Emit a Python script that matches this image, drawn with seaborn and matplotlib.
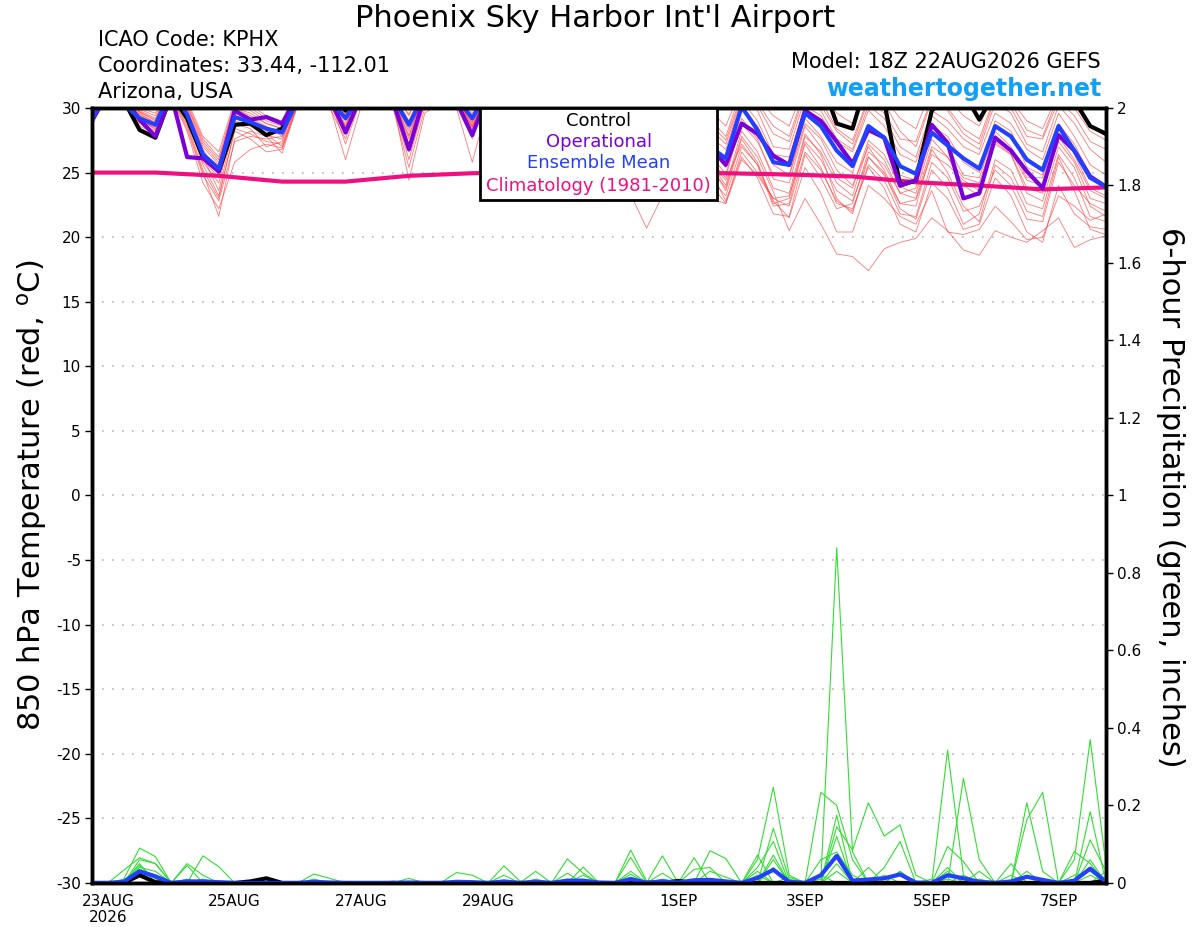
import matplotlib
matplotlib.use("Agg")
import matplotlib.pyplot as plt
import matplotlib.patches as mpatches
import seaborn as sns
import numpy as np
import pandas as pd

# 6-hourly forecast steps, step 0 = 22AUG2026 18Z
steps = list(range(65))

tick_steps = [1, 9, 17, 25, 37, 45, 53, 61]
tick_labels = ["23AUG\n2026", "25AUG", "27AUG", "29AUG", "1SEP", "3SEP", "5SEP", "7SEP"]

# 850 hPa temperature (C)
control_temp = [30.4, 31.8, 30.6, 28.3, 27.7, 31.0, 29.2, 26.2, 25.1, 28.7, 28.8, 27.9,
                28.4, 31.5, 31.6, 31.0, 29.8, 31.8, 31.8, 31.5, 30.6, 32.0, 32.0, 31.6,
                30.6, 32.0, 32.0, 31.6, 30.8, 32.0, 31.8, 31.4, 30.8, 32.0, 31.8, 31.2,
                30.6, 31.8, 31.6, 31.0, 30.8, 31.8, 31.6, 31.2, 30.9, 31.8, 32.2, 28.8,
                28.4, 32.5, 30.5, 24.0, 24.4, 29.8, 31.0, 31.2, 29.1, 31.2, 31.4, 31.2,
                30.6, 31.4, 30.6, 28.6, 28.0]

oper_temp = [29.0, 31.2, 30.8, 29.1, 27.8, 31.0, 26.2, 26.1, 25.1, 29.8, 29.1, 29.3,
             28.8, 31.0, 31.2, 30.8, 28.1, 31.0, 31.2, 30.5, 26.8, 31.0, 31.0, 30.5,
             27.9, 31.2, 31.0, 30.6, 28.5, 31.0, 30.8, 30.0, 28.5, 30.8, 30.2, 29.0,
             27.5, 30.2, 29.0, 27.0, 25.6, 28.8, 28.0, 26.3, 25.6, 29.8, 29.0, 27.4,
             25.7, 28.3, 27.7, 24.0, 24.4, 28.7, 27.3, 23.0, 23.4, 27.7, 26.7, 25.1,
             23.8, 27.9, 26.7, 24.7, 23.9]

mean_temp = [29.1, 31.6, 30.3, 29.2, 28.7, 31.4, 29.5, 26.4, 25.3, 29.3, 28.9, 28.4,
             28.1, 30.7, 31.0, 30.6, 29.2, 31.2, 31.2, 30.8, 28.7, 31.2, 31.3, 30.8,
             29.2, 31.4, 31.3, 30.9, 29.0, 31.2, 31.0, 30.4, 28.8, 31.0, 30.6, 29.8,
             27.8, 30.5, 29.8, 27.0, 26.1, 30.1, 28.3, 25.8, 25.6, 29.6, 28.6, 26.7,
             25.5, 28.6, 27.7, 25.5, 24.9, 28.1, 27.1, 26.1, 25.3, 28.6, 27.8, 26.0,
             25.2, 28.6, 26.7, 24.6, 23.9]

clim_steps = [0, 4, 8, 12, 16, 20, 24, 28, 32, 36, 40, 44, 48, 52, 56, 60, 64]
clim_temp = [25.0, 25.0, 24.75, 24.3, 24.3, 24.75, 24.95, 25.0, 25.05, 25.0, 24.95,
             24.85, 24.7, 24.25, 24.0, 23.7, 23.85]

member_temps = [
    [29.6, 31.8, 31.2, 29.8, 29.2, 31.9, 30.2, 27.4, 26.0, 30.2, 29.8, 29.0, 28.6, 31.5, 31.6, 31.0,
     29.6, 32.0, 31.8, 31.2, 29.4, 31.9, 31.8, 31.2, 29.8, 32.0, 31.8, 31.3, 29.5, 31.8, 31.5, 30.9,
     29.3, 31.6, 31.2, 30.4, 28.6, 31.2, 30.8, 28.8, 27.5, 31.0, 30.2, 28.0, 27.4, 31.2, 30.6, 28.4,
     27.5, 30.8, 30.4, 28.2, 27.0, 30.6, 30.0, 28.4, 27.6, 31.0, 30.4, 28.3, 27.8, 31.0, 30.0, 28.2, 27.5],
    [29.4, 31.5, 30.8, 29.5, 28.9, 31.6, 29.8, 26.8, 24.8, 29.6, 29.2, 28.2, 28.0, 31.0, 31.3, 30.7,
     28.6, 31.4, 31.3, 30.6, 27.9, 31.3, 31.5, 31.0, 29.0, 31.5, 31.2, 30.6, 28.6, 31.2, 31.0, 30.2,
     28.0, 30.8, 30.2, 28.5, 26.5, 30.0, 28.8, 26.0, 24.6, 29.2, 27.6, 24.5, 24.2, 28.6, 27.0, 24.6,
     23.8, 27.5, 26.4, 23.9, 23.4, 27.6, 26.2, 24.6, 24.2, 27.9, 26.6, 24.4, 24.0, 27.4, 25.8, 23.0, 22.6],
    [29.0, 31.2, 30.5, 29.0, 28.4, 31.0, 28.8, 25.2, 23.0, 28.4, 28.0, 27.4, 27.2, 30.4, 30.8, 30.2,
     28.2, 31.0, 31.0, 30.4, 27.2, 30.8, 31.0, 30.5, 28.4, 31.2, 31.0, 30.6, 28.2, 31.0, 30.6, 29.6,
     27.6, 30.5, 29.8, 27.8, 25.8, 29.4, 28.0, 25.5, 23.8, 27.8, 26.2, 23.5, 20.5, 23.0, 21.0, 18.7,
     18.5, 17.4, 19.1, 19.6, 19.9, 21.5, 20.5, 19.0, 18.6, 20.5, 20.0, 19.6, 20.5, 21.5, 19.2, 19.8, 20.1],
    [29.2, 31.4, 30.6, 29.3, 28.6, 31.3, 29.0, 25.8, 24.2, 29.0, 28.6, 27.9, 27.6, 30.5, 30.9, 30.4,
     28.8, 31.1, 31.0, 30.6, 28.2, 31.0, 31.2, 30.7, 28.8, 31.3, 31.1, 30.7, 28.6, 31.0, 30.8, 30.0,
     28.2, 30.6, 30.0, 28.6, 26.2, 29.6, 28.5, 25.8, 24.4, 27.2, 25.6, 22.8, 21.5, 25.4, 23.4, 20.4,
     20.4, 24.0, 23.0, 21.6, 21.0, 23.6, 20.4, 20.2, 20.6, 22.4, 21.2, 19.8, 20.0, 23.2, 22.4, 21.3, 21.8],
    [29.3, 31.6, 31.0, 29.6, 28.8, 31.5, 30.0, 27.0, 25.6, 30.0, 29.4, 28.8, 28.4, 31.2, 31.4, 30.9,
     29.0, 31.5, 31.4, 30.9, 28.6, 31.4, 31.4, 30.9, 29.4, 31.6, 31.4, 30.8, 28.8, 30.8, 30.0, 28.0,
     25.5, 28.2, 23.3, 20.7, 23.2, 27.0, 25.4, 23.0, 22.6, 26.0, 24.8, 23.0, 22.4, 26.6, 25.2, 22.8,
     22.0, 25.6, 24.4, 21.8, 21.6, 25.8, 24.6, 22.0, 22.4, 25.2, 24.0, 21.4, 21.2, 25.8, 24.0, 22.6, 22.0],
    [29.5, 31.7, 31.0, 29.7, 29.0, 31.6, 29.6, 26.2, 23.6, 28.8, 28.4, 27.0, 27.4, 30.8, 31.0, 30.5,
     28.4, 31.3, 31.2, 30.7, 26.6, 30.6, 31.0, 30.6, 28.9, 31.4, 31.2, 30.7, 28.7, 31.2, 30.9, 30.2,
     28.4, 30.9, 30.4, 29.2, 27.2, 30.2, 29.2, 26.4, 24.9, 28.8, 27.4, 24.8, 24.7, 28.8, 27.6, 25.2,
     24.0, 27.0, 25.2, 22.6, 22.9, 26.4, 25.6, 24.4, 23.6, 27.2, 26.4, 23.8, 23.4, 27.8, 26.0, 23.6, 23.0],
    [29.0, 31.0, 30.2, 28.6, 28.0, 30.8, 28.2, 24.2, 22.2, 25.8, 26.8, 27.2, 26.9, 30.2, 30.6, 30.0,
     27.6, 30.8, 30.8, 30.2, 26.0, 30.4, 30.8, 30.2, 28.0, 31.0, 30.9, 30.4, 28.0, 30.8, 30.4, 29.4,
     27.2, 30.2, 29.6, 27.4, 25.2, 28.8, 27.6, 24.6, 23.2, 27.0, 25.6, 22.4, 22.6, 27.4, 26.0, 23.6,
     22.8, 26.2, 25.0, 22.2, 21.4, 25.2, 23.8, 21.0, 21.8, 26.0, 25.2, 22.6, 22.2, 26.4, 24.6, 21.6, 21.2],
    [29.8, 32.0, 31.4, 30.0, 29.6, 32.0, 30.6, 27.8, 26.6, 30.6, 30.2, 29.4, 29.0, 31.8, 31.8, 31.2,
     30.0, 32.2, 32.0, 31.5, 29.8, 32.0, 32.0, 31.5, 30.2, 32.2, 32.0, 31.6, 30.0, 32.0, 31.8, 31.2,
     29.8, 31.9, 31.6, 31.0, 29.6, 31.8, 31.0, 29.8, 28.6, 31.6, 30.8, 29.4, 28.6, 31.8, 31.2, 29.6,
     28.8, 31.6, 30.8, 29.2, 28.4, 31.5, 30.8, 29.4, 28.6, 31.4, 30.6, 29.0, 28.4, 31.2, 30.2, 28.6, 27.8],
    [29.2, 31.3, 30.7, 29.2, 28.3, 31.2, 29.0, 26.0, 24.6, 29.4, 29.0, 28.5, 28.2, 30.9, 31.2, 30.8,
     29.4, 31.4, 31.3, 30.9, 28.9, 31.3, 31.4, 30.9, 29.3, 31.5, 31.4, 31.0, 29.2, 31.3, 31.1, 30.6,
     29.0, 31.2, 30.8, 30.0, 28.2, 30.8, 30.2, 27.8, 26.8, 30.6, 29.0, 26.4, 26.2, 30.2, 29.4, 27.4,
     26.6, 29.8, 28.6, 26.4, 25.8, 29.4, 28.4, 27.0, 26.4, 29.6, 28.8, 26.8, 26.0, 29.6, 27.8, 25.6, 24.8],
    [28.9, 31.1, 30.4, 28.8, 28.0, 30.9, 28.6, 25.0, 21.6, 27.6, 28.2, 27.8, 26.5, 30.4, 30.8, 30.3,
     28.0, 31.0, 31.0, 30.5, 27.6, 31.0, 31.2, 30.6, 28.6, 31.2, 31.0, 30.5, 28.4, 31.0, 30.7, 29.8,
     27.8, 30.6, 30.0, 28.4, 26.0, 29.8, 28.6, 25.8, 24.0, 28.2, 26.6, 23.8, 23.4, 28.0, 26.4, 23.0,
     21.8, 26.2, 24.8, 22.6, 22.4, 26.8, 25.0, 22.4, 21.2, 25.6, 24.6, 22.0, 21.6, 26.2, 23.6, 20.6, 20.2],
    [29.4, 31.6, 30.9, 29.4, 28.6, 31.4, 29.4, 26.6, 25.0, 29.8, 29.2, 28.6, 27.8, 31.0, 31.2, 30.7,
     27.2, 30.8, 31.0, 30.4, 24.4, 29.6, 30.4, 30.2, 27.6, 30.8, 30.8, 30.2, 28.4, 31.0, 30.8, 30.0,
     28.0, 30.6, 30.2, 28.8, 26.8, 30.0, 28.8, 25.6, 23.6, 27.6, 25.8, 22.6, 23.0, 27.8, 26.6, 24.2,
     23.2, 27.2, 26.0, 23.4, 23.8, 28.0, 27.0, 24.8, 24.6, 28.2, 27.0, 24.6, 24.6, 28.4, 26.4, 23.8, 23.2],
    [29.7, 31.9, 31.3, 29.9, 29.4, 31.8, 30.4, 27.6, 26.2, 30.4, 30.0, 29.2, 28.8, 31.6, 31.7, 31.1,
     29.9, 32.0, 31.9, 31.4, 29.5, 31.9, 31.8, 31.3, 29.6, 31.9, 31.7, 31.2, 29.4, 31.7, 31.4, 30.8,
     29.0, 31.4, 31.0, 30.2, 28.0, 31.0, 30.4, 28.4, 27.2, 30.8, 29.8, 27.0, 26.8, 30.8, 29.8, 27.6,
     26.8, 30.2, 29.2, 27.0, 26.2, 29.8, 29.0, 27.6, 26.8, 30.4, 29.6, 27.2, 26.6, 30.2, 28.8, 26.8, 25.8],
    [29.1, 31.2, 30.5, 29.0, 28.5, 31.0, 29.2, 25.6, 23.2, 28.2, 27.6, 26.6, 26.8, 30.4, 30.8, 30.2,
     26.0, 30.2, 30.6, 30.0, 25.4, 30.0, 30.6, 30.0, 25.8, 30.4, 30.4, 29.8, 27.8, 30.6, 30.2, 29.2,
     27.0, 30.0, 29.2, 27.0, 24.8, 28.6, 27.2, 24.2, 22.6, 26.6, 25.0, 23.0, 23.2, 27.2, 25.4, 22.6,
     22.2, 25.4, 23.8, 21.0, 20.4, 24.2, 23.0, 20.6, 21.0, 24.6, 23.2, 20.4, 19.6, 24.0, 21.8, 20.8, 20.6],
    [29.3, 31.4, 30.8, 29.4, 28.8, 31.4, 29.8, 26.6, 25.4, 29.6, 29.0, 28.0, 27.0, 30.6, 31.0, 30.4,
     28.0, 31.2, 31.1, 30.6, 27.8, 31.1, 31.2, 30.8, 28.6, 31.4, 31.2, 30.8, 28.8, 31.2, 30.9, 30.2,
     28.4, 30.8, 30.4, 29.0, 27.4, 30.4, 29.6, 26.8, 25.4, 29.8, 28.6, 25.6, 24.8, 29.2, 27.8, 25.8,
     25.0, 28.6, 27.6, 24.8, 24.4, 28.6, 27.8, 25.8, 25.0, 29.0, 28.2, 25.4, 24.8, 28.8, 27.2, 24.8, 23.8],
    [29.6, 31.8, 31.1, 29.7, 29.1, 31.7, 30.2, 27.2, 25.8, 30.0, 29.6, 28.8, 28.4, 31.3, 31.5, 30.9,
     29.5, 31.8, 31.6, 31.1, 29.0, 31.6, 31.6, 31.0, 29.2, 31.6, 31.5, 31.0, 29.4, 31.6, 31.3, 30.8,
     29.2, 31.4, 31.1, 30.6, 28.9, 31.4, 30.8, 29.2, 27.8, 31.4, 30.4, 28.6, 27.8, 31.4, 30.2, 28.2,
     27.2, 30.6, 29.6, 27.6, 27.4, 30.8, 29.8, 28.0, 27.2, 30.8, 30.0, 27.8, 27.6, 30.6, 29.4, 27.4, 26.8],
    [29.0, 31.1, 30.4, 28.9, 28.2, 30.9, 28.4, 24.8, 22.8, 27.4, 27.8, 27.6, 27.8, 30.8, 31.0, 30.4,
     28.6, 31.2, 31.1, 30.6, 28.4, 31.1, 31.2, 30.6, 28.5, 31.2, 31.0, 30.4, 28.0, 30.8, 30.4, 29.4,
     27.4, 30.2, 29.4, 27.6, 25.6, 29.2, 27.8, 25.2, 22.8, 26.2, 24.6, 21.8, 21.6, 26.4, 24.6, 22.2,
     22.6, 26.6, 25.6, 23.4, 23.0, 27.0, 26.2, 24.0, 23.2, 27.4, 26.4, 23.4, 22.8, 27.0, 25.4, 22.4, 21.6],
]

# 6-hour precipitation (inches)
mean_precip = [0.0, 0.0, 0.003, 0.03, 0.017, 0.0, 0.004, 0.004, 0.002, 0.0, 0.0, 0.0,
               0.0, 0.0, 0.003, 0.001, 0.0, 0.0, 0.0, 0.0, 0.001, 0.0, 0.0, 0.003,
               0.002, 0.0, 0.004, 0.0, 0.003, 0.0, 0.006, 0.006, 0.001, 0.0, 0.01, 0.001,
               0.004, 0.001, 0.007, 0.008, 0.004, 0.0, 0.013, 0.034, 0.003, 0.0, 0.02, 0.07,
               0.006, 0.009, 0.012, 0.022, 0.001, 0.0, 0.02, 0.012, 0.003, 0.0, 0.004, 0.016,
               0.008, 0.0, 0.006, 0.037, 0.003]

control_precip = [0.0, 0.0, 0.0, 0.02, 0.002, 0.0, 0.0, 0.0, 0.0, 0.0, 0.004, 0.012,
                  0.0, 0.0, 0.0, 0.0, 0.0, 0.0, 0.0, 0.0, 0.0, 0.0, 0.0, 0.0,
                  0.0, 0.0, 0.0, 0.0, 0.0, 0.0, 0.0, 0.0, 0.0, 0.0, 0.0, 0.0,
                  0.0, 0.005, 0.0, 0.0, 0.0, 0.0, 0.0, 0.0, 0.0, 0.0, 0.0, 0.0,
                  0.0, 0.0, 0.0, 0.0, 0.0, 0.0, 0.0, 0.0, 0.0, 0.0, 0.0, 0.0,
                  0.0, 0.0, 0.0, 0.0, 0.006]

# member precip, only the non-zero steps
member_precip = [
    {2: 0.01, 3: 0.09, 4: 0.068, 26: 0.044, 27: 0.005, 34: 0.022, 42: 0.06, 43: 0.247, 44: 0.02,
     54: 0.343, 55: 0.02, 63: 0.111, 64: 0.03},
    {2: 0.033, 3: 0.065, 4: 0.05, 7: 0.07, 8: 0.042, 34: 0.085, 35: 0.005, 46: 0.01, 47: 0.865,
     48: 0.08, 59: 0.207, 60: 0.03},
    {3: 0.05, 6: 0.05, 7: 0.02, 14: 0.023, 15: 0.012, 30: 0.062, 31: 0.025, 43: 0.141, 44: 0.01,
     46: 0.234, 47: 0.2, 48: 0.06, 55: 0.27, 56: 0.06, 62: 0.06, 63: 0.37, 64: 0.046},
    {3: 0.04, 4: 0.03, 23: 0.027, 24: 0.02, 36: 0.07, 39: 0.083, 40: 0.063, 43: 0.072, 47: 0.145,
     48: 0.085, 49: 0.207, 50: 0.121, 51: 0.15, 52: 0.02, 59: 0.163, 60: 0.234, 63: 0.184},
    {3: 0.03, 6: 0.045, 20: 0.012, 28: 0.03, 31: 0.041, 34: 0.066, 38: 0.065, 42: 0.072, 47: 0.12,
     50: 0.04, 51: 0.107, 54: 0.094, 55: 0.055, 58: 0.05, 62: 0.081, 63: 0.05},
    {3: 0.06, 4: 0.05, 26: 0.02, 30: 0.025, 34: 0.03, 36: 0.025, 38: 0.035, 39: 0.04, 42: 0.04,
     43: 0.107, 47: 0.175, 49: 0.04, 51: 0.03, 54: 0.04, 56: 0.03, 59: 0.03, 64: 0.03},
    {3: 0.035, 4: 0.02, 31: 0.02, 39: 0.03, 40: 0.015, 42: 0.03, 46: 0.06, 47: 0.08, 48: 0.02,
     53: 0.01, 55: 0.02, 58: 0.02, 63: 0.02},
    {3: 0.025, 7: 0.01, 11: 0.005, 24: 0.005, 37: 0.01, 43: 0.04, 47: 0.05, 51: 0.03, 54: 0.03,
     56: 0.01, 62: 0.02, 63: 0.03},
    {3: 0.045, 4: 0.01, 14: 0.01, 28: 0.01, 34: 0.015, 42: 0.02, 44: 0.015, 47: 0.03, 50: 0.02,
     59: 0.015, 63: 0.06},
    {3: 0.02, 6: 0.01, 19: 0.005, 30: 0.01, 36: 0.01, 43: 0.06, 46: 0.02, 49: 0.01, 54: 0.01,
     60: 0.01, 64: 0.01},
]

RED = "#ff4040"
GREEN = "#33dd33"
PURPLE = "#7a00d8"
BLUE = "#2440ff"
MAGENTA = "#ee1080"

sns.set_style("white")
plt.rcParams['font.family'] = ['DejaVu Sans']
plt.rcParams['text.color'] = 'black'
plt.rcParams['xtick.color'] = 'black'
plt.rcParams['ytick.color'] = 'black'

fig = plt.figure(figsize=(12, 9.27), dpi=100)
ax = fig.add_axes([0.0767, 0.0475, 0.845, 0.836])

# ensemble members
temp_df = pd.concat([pd.DataFrame({"step": steps, "temp": vals, "member": i})
                     for i, vals in enumerate(member_temps)])
sns.lineplot(data=temp_df, x="step", y="temp", units="member", estimator=None,
             color=RED, lw=0.6, alpha=0.7, ax=ax, legend=False)

sns.lineplot(x=clim_steps, y=clim_temp, color=MAGENTA, lw=3, ax=ax)
sns.lineplot(x=steps, y=control_temp, color="black", lw=3, ax=ax)
sns.lineplot(x=steps, y=oper_temp, color=PURPLE, lw=3, ax=ax)
sns.lineplot(x=steps, y=mean_temp, color=BLUE, lw=3, ax=ax)

ax.set_xlim(0, 64)
ax.set_ylim(-30, 30)
ax.set_yticks(range(-30, 31, 5))
ax.set_yticklabels([str(v) for v in range(-30, 31, 5)], fontsize=11)
ax.set_xticks(tick_steps)
ax.set_xticklabels(tick_labels, fontsize=11, linespacing=1.1)
ax.set_xlabel("")
ax.set_ylabel("")
ax.tick_params(axis="both", direction="out", length=5, width=1, color="black",
               labelcolor="black", pad=3)
for y in range(-25, 30, 5):
    ax.axhline(y, color="#b8b8b8", lw=1.2, ls=(0, (1, 5)), zorder=0)

# precipitation on the right axis
ax2 = ax.twinx()
precip_df = pd.concat([pd.DataFrame({"step": steps,
                                     "precip": [amounts.get(s, 0.0) for s in steps],
                                     "member": i})
                       for i, amounts in enumerate(member_precip)])
sns.lineplot(data=precip_df, x="step", y="precip", units="member", estimator=None,
             color=GREEN, lw=0.8, ax=ax2, legend=False)
sns.lineplot(x=steps, y=control_precip, color="black", lw=3, ax=ax2)
sns.lineplot(x=steps, y=mean_precip, color=BLUE, lw=3, ax=ax2)
ax2.set_ylim(0, 2)
ax2.set_xlim(0, 64)
p_ticks = [round(v * 0.2, 1) for v in range(11)]
ax2.set_yticks(p_ticks)
ax2.set_yticklabels([("%g" % v) for v in p_ticks], fontsize=11)
ax2.set_ylabel("")
ax2.tick_params(axis="y", direction="out", length=5, width=1, color="black",
                labelcolor="black", pad=3)

for a in (ax, ax2):
    for side in ["left", "right", "top", "bottom"]:
        a.spines[side].set_color("black")
        a.spines[side].set_linewidth(2.5)
        a.spines[side].set_visible(True)

# legend box
ax2.add_patch(mpatches.Rectangle((0.3824, 0.8813), 0.2344, 0.1187, transform=ax2.transAxes,
                                 facecolor="white", edgecolor="black", lw=2, zorder=20,
                                 clip_on=False))
leg_items = [("Control", "black", 0.9832), ("Operational", PURPLE, 0.9561),
             ("Ensemble Mean", BLUE, 0.929), ("Climatology (1981-2010)", MAGENTA, 0.8994)]
for txt, col, yy in leg_items:
    ax2.text(0.4996, yy, txt, color=col, fontsize=13, ha="center", va="center",
             transform=ax2.transAxes, zorder=21)

# header texts
fig.text(0.496, 0.980, "Phoenix Sky Harbor Int'l Airport", ha="center", va="center", fontsize=22)
fig.text(0.0817, 0.957, "ICAO Code: KPHX", ha="left", va="center", fontsize=15)
fig.text(0.0817, 0.929, "Coordinates: 33.44, -112.01", ha="left", va="center", fontsize=15)
fig.text(0.0817, 0.901, "Arizona, USA", ha="left", va="center", fontsize=15)
fig.text(0.9175, 0.933, "Model: 18Z 22AUG2026 GEFS", ha="right", va="center", fontsize=15)
fig.text(0.9175, 0.904, "weathertogether.net", ha="right", va="center", fontsize=17,
         fontweight="bold", color="#12a0f7")

fig.text(0.027, 0.466, "850 hPa Temperature (red, $^{\\mathrm{o}}$C)", rotation=90,
         ha="center", va="center", fontsize=22)
fig.text(0.975, 0.464, "6-hour Precipitation (green, inches)", rotation=270,
         ha="center", va="center", fontsize=22)

fig.savefig("out.png", dpi=100)
